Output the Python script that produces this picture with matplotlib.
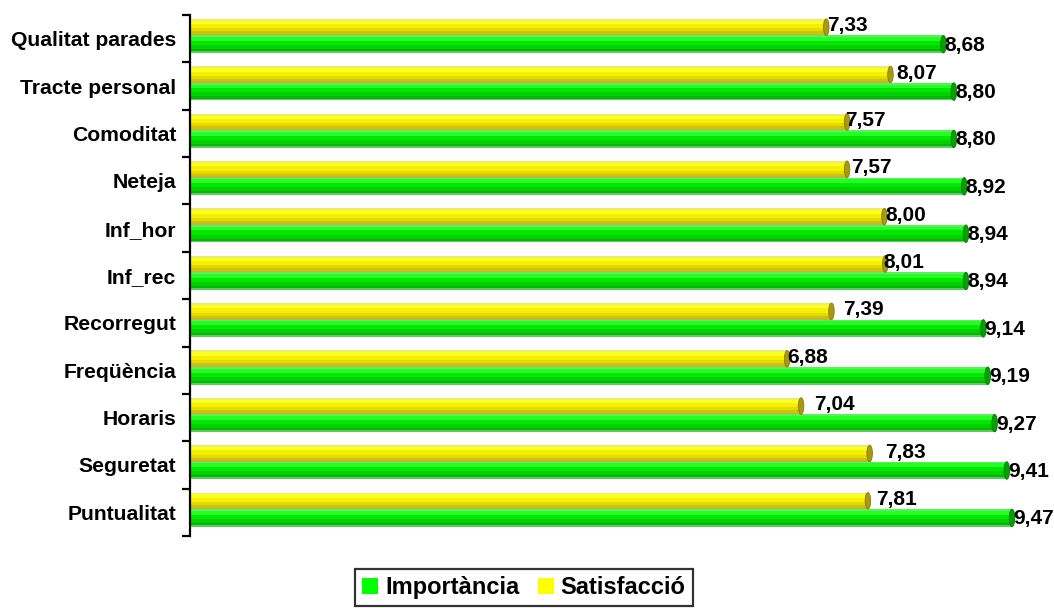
import matplotlib
matplotlib.use("Agg")
import matplotlib.pyplot as plt
from matplotlib.patches import Ellipse, Patch
import numpy as np

plt.rcParams['font.family'] = ['Liberation Sans', 'DejaVu Sans']
plt.rcParams['font.weight'] = 'bold'

categories = ["Qualitat parades", "Tracte personal", "Comoditat", "Neteja", "Inf_hor",
              "Inf_rec", "Recorregut", "Freqüència", "Horaris", "Seguretat", "Puntualitat"]
importancia = [8.68, 8.80, 8.80, 8.92, 8.94, 8.94, 9.14, 9.19, 9.27, 9.41, 9.47]
satisfaccio = [7.33, 8.07, 7.57, 7.57, 8.00, 8.01, 7.39, 6.88, 7.04, 7.83, 7.81]
series_names = ["Importància", "Satisfacció"]

# horizontal nudges (pixels) of the yellow value labels
sat_label_nudge = [0, 5, -3, 3, 0, -3, 11, -1, 12, 15, 8]

fig = plt.figure(figsize=(10.54, 6.08), dpi=100)
ax = fig.add_axes([190 / 1054, 1 - 536 / 608, (1054 - 190) / 1054, (536 - 15) / 608])

PX = 86.8  # pixels per unit on x
ax.set_xlim(0, (1054 - 190) / PX)
ax.set_ylim(len(categories) - 0.5, -0.5)

y = np.arange(len(categories))

# cylinder-like shading: stripes (fraction from top, fraction to bottom, colour)
yellow_stripes = [(0.00, 0.12, "#ecec6a"), (0.12, 0.32, "#ffff22"), (0.32, 0.58, "#f4f000"),
                  (0.58, 0.76, "#e2da00"), (0.76, 0.90, "#d2c200"), (0.90, 1.00, "#c4b43a")]
green_stripes = [(0.00, 0.10, "#5cee5c"), (0.10, 0.32, "#26ff26"), (0.32, 0.55, "#00e800"),
                 (0.55, 0.78, "#00d000"), (0.78, 0.90, "#00b800"), (0.90, 1.00, "#60c860")]

sat_top, sat_h = -0.418, 0.35
imp_top, imp_h = -0.068, 0.37


def draw_cylinders(values, top, h, stripes, cap_color, cap_edge):
    vals = np.asarray(values)
    for f0, f1, col in stripes:
        sh = (f1 - f0) * h
        ax.barh(y + top + f0 * h + sh / 2, vals, height=sh * 1.02, left=0,
                color=col, edgecolor="none", zorder=2)
    cap_w = 5.5 / PX
    for yi, v in zip(y, vals):
        ax.add_patch(Ellipse((v, yi + top + h / 2), cap_w, h, facecolor=cap_color,
                             edgecolor=cap_edge, lw=0.6, zorder=3))


draw_cylinders(satisfaccio, sat_top, sat_h, yellow_stripes, "#a89a10", "#8a7c00")
draw_cylinders(importancia, imp_top, imp_h, green_stripes, "#00a000", "#007a00")

fmt = lambda v: f"{v:.2f}".replace(".", ",")
for yi, v, dx in zip(y, satisfaccio, sat_label_nudge):
    ax.annotate(fmt(v), (v, yi + sat_top + sat_h / 2 - 0.03), xytext=(dx * 0.72 + 0.5, 0),
                textcoords="offset points", ha="left", va="center",
                fontsize=15, fontweight="bold", zorder=5)
for yi, v in zip(y, importancia):
    ax.annotate(fmt(v), (v, yi + imp_top + imp_h / 2 + 0.02), xytext=(1.0, 0),
                textcoords="offset points", ha="left", va="center",
                fontsize=15, fontweight="bold", zorder=5)

# axis styling
for s in ["top", "right", "bottom"]:
    ax.spines[s].set_visible(False)
ax.spines["left"].set_linewidth(1.6)
ax.xaxis.set_visible(False)
ax.set_yticks(y)
ax.set_yticklabels(categories, fontsize=15.2, fontweight="bold")
ax.tick_params(axis="y", which="major", length=0, pad=10)
ax.set_yticks(np.arange(-0.5, len(categories), 1.0), minor=True)
ax.tick_params(axis="y", which="minor", length=6, width=1.6, direction="out")

handles = [Patch(facecolor="#00ff00", edgecolor="none"),
           Patch(facecolor="#ffff00", edgecolor="none")]
leg = fig.legend(handles, series_names, loc="upper center",
                 bbox_to_anchor=(524 / 1054, 1 - 569 / 608), ncol=2,
                 prop={"size": 17, "weight": "bold"}, frameon=True, fancybox=False,
                 handlelength=0.68, handleheight=0.68, handletextpad=0.3,
                 columnspacing=0.75, borderpad=0.3, borderaxespad=0)
leg.get_frame().set_edgecolor("black")
leg.get_frame().set_linewidth(1.6)

fig.savefig("out.png", dpi=100, facecolor="white")
